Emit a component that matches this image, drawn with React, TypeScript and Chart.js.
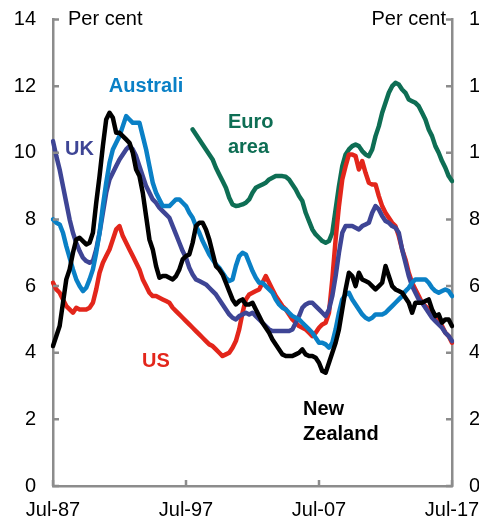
import React, { useEffect, useRef } from "react";
import { Chart, registerables } from "chart.js";

Chart.register(...registerables);

// Quarterly observations, Jul-1987 to Jul-2017
const quarterNames = ["Jan", "Apr", "Jul", "Oct"];
const dates: string[] = [];
for (let y = 1987; y <= 2017; y++) {
  for (let q = 0; q < 4; q++) {
    if (y === 1987 && q < 2) continue;
    if (y === 2017 && q > 2) continue;
    dates.push(quarterNames[q] + "-" + String(y % 100).padStart(2, "0"));
  }
}

const tickLabels = ["Jul-87", "Jul-97", "Jul-07", "Jul-17"];
const yTicks = [0, 2, 4, 6, 8, 10, 12, 14];

const australia = [
  8.0, 7.9, // 1987
  7.85, 7.6, 7.2, 6.85, // 1988
  6.5, 6.2, 6.0, 5.85, // 1989
  5.95, 6.2, 6.5, 7.0, // 1990
  7.6, 8.4, 9.1, 9.7, // 1991
  10.1, 10.3, 10.5, 10.8, // 1992
  11.1, 11.0, 10.9, 10.9, // 1993
  10.9, 10.5, 10.1, 9.6, // 1994
  9.1, 8.8, 8.6, 8.4, // 1995
  8.4, 8.4, 8.5, 8.6, // 1996
  8.6, 8.5, 8.4, 8.2, // 1997
  8.05, 7.8, 7.6, 7.35, // 1998
  7.15, 6.95, 6.8, 6.65, // 1999
  6.55, 6.4, 6.25, 6.15, // 2000
  6.2, 6.6, 6.9, 7.0, // 2001
  6.95, 6.7, 6.45, 6.25, // 2002
  6.1, 6.1, 6.0, 5.9, // 2003
  5.8, 5.6, 5.45, 5.35, // 2004
  5.3, 5.2, 5.1, 5.05, // 2005
  5.0, 4.9, 4.8, 4.7, // 2006
  4.6, 4.45, 4.3, 4.3, // 2007
  4.25, 4.15, 4.3, 4.7, // 2008
  5.2, 5.6, 5.75, 5.8, // 2009
  5.6, 5.45, 5.3, 5.15, // 2010
  5.05, 5.0, 5.05, 5.15, // 2011
  5.15, 5.15, 5.2, 5.3, // 2012
  5.4, 5.5, 5.6, 5.7, // 2013
  5.85, 5.95, 6.1, 6.2, // 2014
  6.2, 6.2, 6.2, 6.1, // 2015
  5.95, 5.85, 5.8, 5.85, // 2016
  5.9, 5.85, 5.7, // 2017
];

const uk = [
  10.35, 9.9, // 1987
  9.5, 9.0, 8.5, 8.0, // 1988
  7.6, 7.3, 7.05, 6.85, // 1989
  6.75, 6.7, 6.75, 7.1, // 1990
  7.6, 8.2, 8.8, 9.2, // 1991
  9.4, 9.6, 9.8, 9.95, // 1992
  10.1, 10.2, 10.1, 9.9, // 1993
  9.6, 9.3, 9.0, 8.8, // 1994
  8.6, 8.5, 8.35, 8.25, // 1995
  8.15, 8.05, 7.8, 7.55, // 1996
  7.3, 7.05, 6.85, 6.55, // 1997
  6.35, 6.2, 6.15, 6.1, // 1998
  6.05, 5.95, 5.85, 5.75, // 1999
  5.6, 5.45, 5.3, 5.15, // 2000
  5.05, 5.0, 5.1, 5.15, // 2001
  5.2, 5.15, 5.2, 5.1, // 2002
  5.0, 4.9, 4.8, 4.7, // 2003
  4.65, 4.65, 4.65, 4.65, // 2004
  4.65, 4.65, 4.7, 4.9, // 2005
  5.1, 5.35, 5.45, 5.5, // 2006
  5.5, 5.4, 5.3, 5.2, // 2007
  5.1, 5.3, 5.7, 6.3, // 2008
  7.0, 7.6, 7.8, 7.8, // 2009
  7.8, 7.75, 7.7, 7.8, // 2010
  7.85, 7.9, 8.2, 8.4, // 2011
  8.3, 8.1, 7.95, 7.9, // 2012
  7.8, 7.75, 7.6, 7.1, // 2013
  6.7, 6.3, 6.0, 5.8, // 2014
  5.6, 5.5, 5.35, 5.2, // 2015
  5.05, 4.95, 4.85, 4.75, // 2016
  4.6, 4.5, 4.35, // 2017
];

const us = [
  6.1, 5.9, // 1987
  5.8, 5.6, 5.4, 5.3, // 1988
  5.2, 5.35, 5.3, 5.3, // 1989
  5.3, 5.35, 5.5, 5.9, // 1990
  6.4, 6.7, 6.9, 7.1, // 1991
  7.4, 7.7, 7.8, 7.5, // 1992
  7.3, 7.1, 6.9, 6.7, // 1993
  6.5, 6.2, 6.0, 5.8, // 1994
  5.7, 5.7, 5.65, 5.6, // 1995
  5.55, 5.5, 5.35, 5.25, // 1996
  5.15, 5.05, 4.95, 4.85, // 1997
  4.75, 4.65, 4.55, 4.45, // 1998
  4.35, 4.25, 4.2, 4.1, // 1999
  4.0, 3.9, 3.95, 4.0, // 2000
  4.15, 4.35, 4.7, 5.2, // 2001
  5.6, 5.75, 5.8, 5.85, // 2002
  5.9, 6.1, 6.3, 6.1, // 2003
  5.9, 5.7, 5.55, 5.4, // 2004
  5.3, 5.15, 5.0, 4.9, // 2005
  4.8, 4.75, 4.7, 4.6, // 2006
  4.5, 4.6, 4.75, 4.85, // 2007
  4.9, 5.2, 6.2, 7.4, // 2008
  8.4, 9.2, 9.6, 9.95, // 2009
  9.95, 9.9, 9.5, 9.75, // 2010
  9.4, 9.1, 9.05, 9.05, // 2011
  8.7, 8.4, 8.2, 8.05, // 2012
  7.9, 7.8, 7.5, 7.1, // 2013
  6.8, 6.4, 6.1, 5.9, // 2014
  5.7, 5.5, 5.4, 5.3, // 2015
  5.2, 5.1, 4.95, 4.8, // 2016
  4.6, 4.5, 4.3, // 2017
];

const euroArea = [
  null, null, // 1987
  null, null, null, null, // 1988
  null, null, null, null, // 1989
  null, null, null, null, // 1990
  null, null, null, null, // 1991
  null, null, null, null, // 1992
  null, null, null, null, // 1993
  null, null, null, null, // 1994
  null, null, null, null, // 1995
  null, null, null, null, // 1996
  null, null, null, null, // 1997
  10.7, 10.55, 10.4, 10.25, // 1998
  10.1, 9.95, 9.8, 9.55, // 1999
  9.35, 9.15, 8.95, 8.65, // 2000
  8.45, 8.4, 8.42, 8.45, // 2001
  8.5, 8.6, 8.8, 8.95, // 2002
  9.0, 9.05, 9.1, 9.2, // 2003
  9.25, 9.3, 9.3, 9.3, // 2004
  9.28, 9.2, 9.05, 8.9, // 2005
  8.7, 8.55, 8.2, 7.95, // 2006
  7.7, 7.55, 7.45, 7.35, // 2007
  7.3, 7.35, 7.6, 8.3, // 2008
  9.0, 9.6, 9.95, 10.1, // 2009
  10.2, 10.25, 10.2, 10.05, // 2010
  9.95, 9.9, 10.1, 10.5, // 2011
  10.8, 11.2, 11.5, 11.8, // 2012
  12.0, 12.1, 12.05, 11.9, // 2013
  11.8, 11.6, 11.55, 11.5, // 2014
  11.4, 11.2, 11.0, 10.7, // 2015
  10.5, 10.2, 10.0, 9.75, // 2016
  9.55, 9.3, 9.15, // 2017
];

const newZealand = [
  4.2, 4.5, // 1987
  4.8, 5.5, 6.2, 6.5, // 1988
  7.0, 7.4, 7.45, 7.35, // 1989
  7.25, 7.3, 7.6, 8.5, // 1990
  9.3, 10.2, 11.0, 11.2, // 1991
  11.05, 10.6, 10.6, 10.5, // 1992
  10.4, 10.3, 10.0, 9.5, // 1993
  9.3, 8.8, 8.1, 7.4, // 1994
  7.1, 6.6, 6.25, 6.3, // 1995
  6.3, 6.25, 6.2, 6.3, // 1996
  6.5, 6.8, 6.9, 6.95, // 1997
  7.3, 7.8, 7.9, 7.9, // 1998
  7.7, 7.4, 7.0, 6.6, // 1999
  6.5, 6.35, 6.1, 5.85, // 2000
  5.6, 5.45, 5.55, 5.6, // 2001
  5.45, 5.45, 5.5, 5.3, // 2002
  5.1, 4.9, 4.75, 4.6, // 2003
  4.4, 4.25, 4.1, 3.95, // 2004
  3.9, 3.9, 3.9, 3.95, // 2005
  4.0, 4.1, 3.95, 3.9, // 2006
  3.9, 3.85, 3.7, 3.45, // 2007
  3.4, 3.7, 4.0, 4.3, // 2008
  4.7, 5.3, 5.9, 6.4, // 2009
  6.3, 6.0, 6.4, 6.2, // 2010
  6.15, 6.1, 6.0, 5.9, // 2011
  6.0, 6.1, 6.6, 6.3, // 2012
  6.0, 5.9, 5.85, 5.8, // 2013
  5.65, 5.5, 5.2, 5.5, // 2014
  5.5, 5.5, 5.55, 5.6, // 2015
  5.3, 5.1, 5.15, 4.9, // 2016
  5.0, 5.0, 4.8, // 2017
];

const COLORS = {
  nz: "#000000",
  aus: "#0a80c6",
  uk: "#3e4595",
  us: "#e3261b",
  euro: "#0e6e54",
  axis: "#8c8c8c",
};

const FONT = "'Liberation Sans', Arial, Helvetica, sans-serif";

// Series name labels: anchored at (category index, value) through the scales
const seriesLabels = [
  { lines: ["Australi"], color: COLORS.aus, at: 16.8, value: 11.98 },
  { lines: ["UK"], color: COLORS.uk, at: 3.6, value: 10.1 },
  { lines: ["Euro", "area"], color: COLORS.euro, at: 52.6, value: 10.9 },
  { lines: ["US"], color: COLORS.us, at: 26.8, value: 3.74 },
  { lines: ["New", "Zealand"], color: COLORS.nz, at: 75.2, value: 2.31 },
];

const overlayPlugin = {
  id: "overlay",
  afterDraw(chart: any) {
    const { ctx, chartArea, scales } = chart;
    const x = scales.x;
    const y = scales.y;
    ctx.save();
    // inward tick marks
    ctx.strokeStyle = COLORS.axis;
    ctx.lineWidth = 2.5;
    ctx.lineCap = "butt";
    const tl = 6;
    ctx.beginPath();
    yTicks.forEach((v) => {
      const py = y.getPixelForValue(v);
      ctx.moveTo(chartArea.left, py);
      ctx.lineTo(chartArea.left + tl, py);
      ctx.moveTo(chartArea.right, py);
      ctx.lineTo(chartArea.right - tl, py);
    });
    tickLabels.forEach((lbl) => {
      const idx = dates.indexOf(lbl);
      const px = x.getPixelForValue(idx);
      ctx.moveTo(px, chartArea.bottom);
      ctx.lineTo(px, chartArea.bottom - tl);
    });
    ctx.stroke();

    // "Per cent" unit labels
    ctx.fillStyle = "#000";
    ctx.font = `20px ${FONT}`;
    ctx.textBaseline = "middle";
    const topY = y.getPixelForValue(14);
    ctx.textAlign = "left";
    ctx.fillText("Per cent", chartArea.left + 15, topY);
    ctx.textAlign = "right";
    ctx.fillText("Per cent", chartArea.right - 6, topY);

    // series labels
    ctx.font = `bold 20px ${FONT}`;
    ctx.textAlign = "left";
    seriesLabels.forEach((s) => {
      ctx.fillStyle = s.color;
      const px = x.getPixelForValue(s.at);
      const py = y.getPixelForValue(s.value);
      s.lines.forEach((line, i) => ctx.fillText(line, px, py + i * 25));
    });
    ctx.restore();
  },
};

export default function App() {
  const ref = useRef<HTMLCanvasElement>(null);
  useEffect(() => {
    if (!ref.current) return;
    const axisBorder = { display: true, color: COLORS.axis, width: 2.5 };
    const yScale = (position: "left" | "right", width: number) => ({
      type: "linear" as const,
      position,
      min: 0,
      max: 14,
      afterFit(scale: any) {
        scale.width = width;
        scale.paddingTop = 0;
        scale.paddingBottom = 0;
      },
      grid: { display: false, drawTicks: false },
      border: axisBorder,
      ticks: {
        stepSize: 2,
        padding: 17,
        color: "#000",
        font: { family: FONT, size: 20 },
      },
    });
    const ds = (label: string, data: (number | null)[], color: string) => ({
      label,
      data,
      borderColor: color,
      backgroundColor: color,
      borderWidth: 4.5,
      pointRadius: 0,
      tension: 0,
      spanGaps: false,
      borderJoinStyle: "round" as const,
      borderCapStyle: "round" as const,
    });
    const chart = new Chart(ref.current, {
      type: "line",
      data: {
        labels: dates,
        datasets: [
          ds("New Zealand", newZealand, COLORS.nz),
          ds("Australia", australia, COLORS.aus),
          ds("UK", uk, COLORS.uk),
          ds("US", us, COLORS.us),
          ds("Euro area", euroArea, COLORS.euro),
        ],
      },
      options: {
        responsive: false,
        animation: false,
        devicePixelRatio: 1,
        layout: { padding: { top: 19.5, left: 0, right: 0, bottom: 0 } },
        plugins: {
          legend: { display: false },
          tooltip: { enabled: false },
        },
        scales: {
          x: {
            type: "category",
            offset: false,
            afterFit(scale: any) {
              scale.height = 39;
              scale.paddingLeft = 0;
              scale.paddingRight = 0;
            },
            grid: { display: false, drawTicks: false },
            border: axisBorder,
            ticks: {
              autoSkip: false,
              maxRotation: 0,
              padding: 12,
              color: "#000",
              font: { family: FONT, size: 20 },
              callback: (_v: any, i: number) =>
                tickLabels.includes(dates[i]) ? dates[i] : null,
            },
          },
          y: yScale("left", 53),
          y2: yScale("right", 48),
        },
      },
      plugins: [overlayPlugin],
    });
    return () => chart.destroy();
  }, []);
  return (
    <div
      style={{
        position: "fixed",
        left: 0,
        top: 0,
        width: 479,
        height: 525,
        overflow: "hidden",
        background: "#fff",
      }}
    >
      <canvas ref={ref} width={500} height={525} style={{ display: "block" }} />
    </div>
  );
}
